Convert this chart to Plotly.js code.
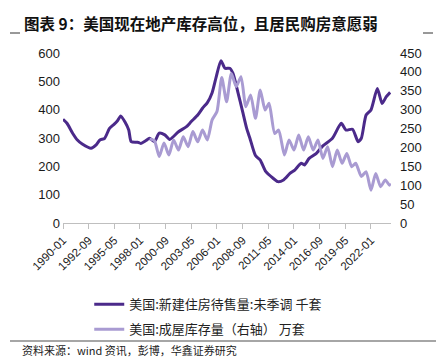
<!DOCTYPE html>
<html>
<head>
<meta charset="utf-8">
<script src="https://cdn.plot.ly/plotly-3.0.1.min.js"></script>
<style>
html,body{margin:0;padding:0;background:#fff;}
#chart{width:436px;height:358px;}
</style>
</head>
<body>
<div id="chart"></div>
<script>
// 美国:新建住房待售量:未季调 (千套), left axis
const newDates = ['1990-01-01','1990-06-01','1991-01-01','1991-07-01','1992-01-01','1992-12-01','1993-06-01','1993-11-01','1994-05-01','1994-11-01','1995-05-01','1995-09-01','1996-01-01','1996-06-01','1996-11-01','1997-02-01','1997-10-01','1998-02-01','1998-08-01','1999-01-01','1999-07-01','2000-01-01','2000-08-01','2001-02-01','2002-01-01','2002-11-01','2003-05-01','2004-01-01','2004-07-01','2005-01-01','2005-07-01','2005-12-01','2006-06-01','2006-11-01','2007-05-01','2007-09-01','2008-03-01','2008-09-01','2009-02-01','2009-06-01','2010-01-01','2010-07-01','2011-02-01','2011-11-01','2012-05-01','2012-12-01','2013-08-01','2014-02-01','2014-10-01','2015-02-01','2015-08-01','2016-05-01','2017-01-01','2018-01-01','2018-12-01','2019-06-01','2020-02-01','2020-09-01','2021-01-01','2021-07-01','2022-01-01','2022-09-01','2023-03-01','2023-08-01','2024-01-01'];
const newValues = [366,352,317,293,279,264,275,293,299,334,349,361,378,358,328,287,285,281,290,299,287,317,311,295,322,340,358,381,405,425,460,515,573,546,546,528,463,393,334,300,238,222,181,158,146,152,175,187,211,205,228,246,272,299,352,328,331,287,299,381,399,475,422,445,461];

// 美国:成屋库存量 (万套), right axis
const exDates = ['1999-01-01','1999-07-01','2000-01-01','2000-07-01','2001-01-01','2001-07-01','2002-01-01','2002-07-01','2003-01-01','2003-07-01','2004-01-01','2004-07-01','2005-01-01','2005-07-01','2006-01-01','2006-07-01','2007-01-01','2007-07-01','2008-01-01','2008-07-01','2009-01-01','2009-07-01','2010-01-01','2010-07-01','2011-01-01','2011-06-01','2012-01-01','2012-06-01','2013-01-01','2013-07-01','2014-01-01','2014-07-01','2015-01-01','2015-07-01','2016-01-01','2016-07-01','2017-01-01','2017-07-01','2018-01-01','2018-07-01','2019-01-01','2019-07-01','2020-01-01','2020-06-01','2021-01-01','2021-07-01','2022-01-01','2022-07-01','2023-01-01','2023-07-01','2023-12-01','2024-01-01'];
const exValues = [222,218,176,212,180,220,193,228,202,242,215,246,220,273,295,385,321,396,361,387,308,339,277,352,299,317,237,246,180,220,193,233,193,228,193,220,171,202,149,193,158,184,149,158,123,136,87,131,96,114,100,105];

const tickDates = ['1990-01-01','1992-09-01','1995-05-01','1998-01-01','2000-09-01','2003-05-01','2006-01-01','2008-09-01','2011-05-01','2014-01-01','2016-09-01','2019-05-01','2022-01-01'];
const tickLabels = ['1990-01','1992-09','1995-05','1998-01','2000-09','2003-05','2006-01','2008-09','2011-05','2014-01','2016-09','2019-05','2022-01'];

const seriesNames = ['美国:新建住房待售量:未季调 千套','美国:成屋库存量（右轴） 万套'];

const traces = [
  {x: newDates, y: newValues, name: seriesNames[0], type: 'scatter', mode: 'lines',
   line: {color: '#4b2a8a', width: 3, shape: 'spline', smoothing: 0.6}, yaxis: 'y', legendgroup: 'a'},
  {x: exDates, y: exValues, name: seriesNames[1], type: 'scatter', mode: 'lines',
   line: {color: '#a99bd2', width: 3, shape: 'spline', smoothing: 0.6}, yaxis: 'y2', legendgroup: 'b'}
];

const tickFont = {family: '"Liberation Sans", Arial, sans-serif', size: 13, color: '#1a1a1a'};

const layout = {
  width: 436, height: 358,
  margin: {l: 63, r: 45, t: 53, b: 135},
  paper_bgcolor: '#ffffff', plot_bgcolor: '#ffffff',
  showlegend: true,
  legend: {x: 0.08, y: -0.39, xanchor: 'left', yanchor: 'top', orientation: 'v',
    font: {family: '"Noto Sans CJK SC", sans-serif', size: 13, color: '#222'},
    tracegroupgap: 5, traceorder: 'grouped', bgcolor: 'rgba(0,0,0,0)'},
  xaxis: {type: 'date', range: ['1990-01-01', '2024-02-01'], tickmode: 'array',
    tickvals: tickDates, ticktext: tickLabels, tickangle: -45,
    tickfont: {family: '"Liberation Sans", Arial, sans-serif', size: 11.5, color: '#1a1a1a'},
    showgrid: false, zeroline: false, showline: true, linecolor: '#bfbfbf', linewidth: 1,
    ticks: 'outside', ticklen: 5, tickcolor: '#bfbfbf'},
  yaxis: {range: [0, 600], dtick: 100, showgrid: false, zeroline: false, showline: false,
    tickfont: tickFont, ticks: '', ticklabelstandoff: 2},
  yaxis2: {range: [0, 450], dtick: 50, overlaying: 'y', side: 'right', showgrid: false,
    zeroline: false, showline: false, tickfont: tickFont, ticks: '', ticklabelstandoff: 8},
  shapes: [
    {type: 'line', xref: 'paper', yref: 'paper', x0: -53/328, x1: -43/328, y0: 190/170, y1: 190/170, line: {color: '#333', width: 1}},
    {type: 'line', xref: 'paper', yref: 'paper', x0: 360/328, x1: 370/328, y0: 190/170, y1: 190/170, line: {color: '#333', width: 1}},
    {type: 'line', xref: 'paper', yref: 'paper', x0: -53/328, x1: 373/328, y0: -118/170, y1: -118/170, line: {color: '#888', width: 1.5}}
  ],
  annotations: [
    {text: '<b>图表 9：美国现在地产库存高位，且居民购房意愿弱</b>', xref: 'paper', yref: 'paper',
     x: -41/328, y: 200/170, xanchor: 'left', yanchor: 'middle', showarrow: false,
     font: {family: '"Noto Sans CJK SC", sans-serif', size: 15.5, color: '#111'}},
    {text: '资料来源：wind 资讯，彭博，华鑫证券研究', xref: 'paper', yref: 'paper',
     x: -43/328, y: -127/170, xanchor: 'left', yanchor: 'middle', showarrow: false,
     font: {family: '"Noto Sans CJK SC", sans-serif', size: 11, color: '#222'}}
  ]
};

Plotly.newPlot('chart', traces, layout, {displayModeBar: false, staticPlot: true});
</script>
</body>
</html>
